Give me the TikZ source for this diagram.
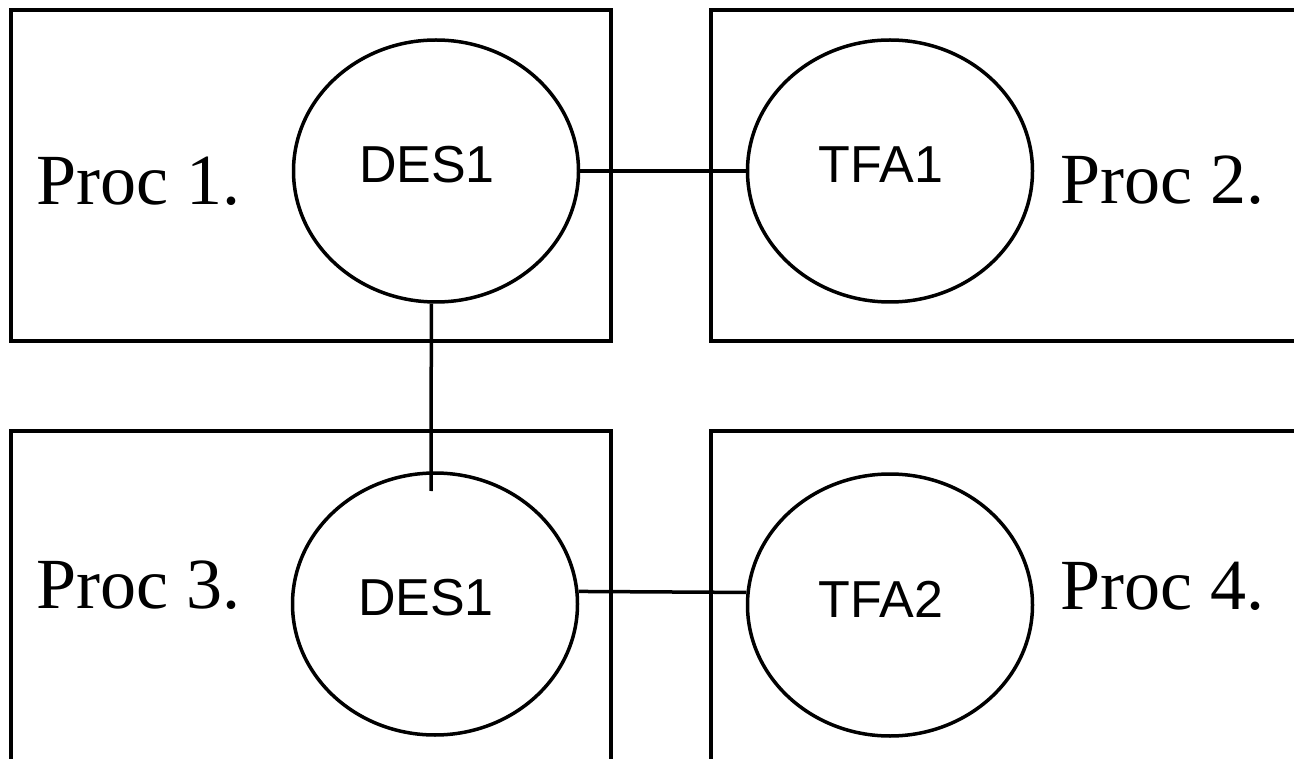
\documentclass[tikz,border=0pt]{standalone}
\usepackage{fontspec}
\usetikzlibrary{shapes.geometric}
\setmainfont{Liberation Serif}
\newfontfamily\taskfont{Liberation Sans}
\tikzset{
  procbox/.style={line width=3.5pt},
  task/.style={draw, ellipse, line width=3.5pt, minimum width=285pt, minimum height=262pt, inner sep=0pt},
  taskname/.style={font=\taskfont\fontsize{52}{60}\selectfont, xshift=-9pt, yshift=6pt},
  procname/.style={anchor=base west, inner sep=0pt, font=\fontsize{72}{80}\selectfont},
}
\begin{document}
\begin{tikzpicture}[x=1pt, y=-1pt, line width=3.5pt]
  \useasboundingbox (0,0) rectangle (1294,759);
  \clip (0,0) rectangle (1294,759);
  % processors
  \draw[procbox] (11,10) rectangle (611,341);
  \draw[procbox] (711,10) rectangle (1320,341);
  \draw[procbox] (11,431) rectangle (611,790);
  \draw[procbox] (711,431) rectangle (1320,790);
  \node[procname] (p1) at (35,205) {Proc 1.};
  \node[procname] (p2) at (1059,204) {Proc 2.};
  \node[procname] (p3) at (35,608) {Proc 3.};
  \node[procname] (p4) at (1059,609) {Proc 4.};
  % tasks
  \node[task, label={[taskname, name=desat]center:DES1}] (desa) at (436,171) {};
  \node[task, label={[taskname, name=tfaat]center:TFA1}] (tfaa) at (890,171) {};
  \node[task, label={[taskname, name=desbt]center:DES1}] (desb) at (435,604) {};
  \node[task, label={[taskname, name=tfabt]center:TFA2}] (tfab) at (890,605) {};
  % links
  \coordinate (vend) at (431,491);
  \draw (desa.east) -- (tfaa.west);
  \draw (desa.268) -- (vend);
  \draw (desb.5) -- (tfab.175);
\end{tikzpicture}
\end{document}
